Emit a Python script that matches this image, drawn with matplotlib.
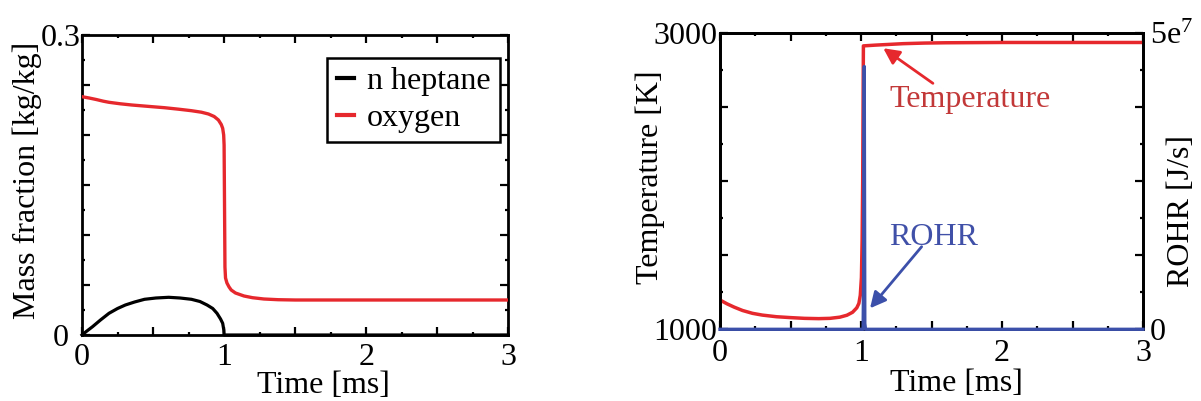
import numpy as np
import matplotlib
matplotlib.use("Agg")
import matplotlib.pyplot as plt
from matplotlib.ticker import MultipleLocator, FuncFormatter

plt.rcParams['font.family'] = ['Liberation Serif', 'DejaVu Serif']
plt.rcParams['mathtext.fontset'] = 'custom'
plt.rcParams['mathtext.rm'] = 'Liberation Serif'
plt.rcParams['mathtext.it'] = 'Liberation Serif:italic'
plt.rcParams['mathtext.bf'] = 'Liberation Serif:bold'

# ---------------- data ----------------
heptane_t = [0, 0.03, 0.074, 0.13, 0.19, 0.25, 0.305, 0.37, 0.44, 0.52, 0.61, 0.69,
             0.77, 0.83, 0.88, 0.92, 0.95, 0.975, 0.99, 0.998, 1.0, 3.0]
heptane_y = [0, 0.0035, 0.0083, 0.015, 0.0217, 0.0265, 0.030, 0.033, 0.0357, 0.037,
             0.0377, 0.037, 0.0357, 0.0335, 0.030, 0.0265, 0.0217, 0.016, 0.0117,
             0.005, 0, 0]

oxygen_t = [0, 0.05, 0.1, 0.15, 0.19, 0.27, 0.35, 0.46, 0.58, 0.68, 0.77, 0.84, 0.89,
            0.93, 0.96, 0.98, 0.99, 0.997, 1.0, 1.003, 1.006, 1.01, 1.02, 1.035, 1.05,
            1.08, 1.14, 1.2, 1.28, 1.38, 1.5, 3.0]
oxygen_y = [0.2383, 0.237, 0.2355, 0.2338, 0.2327, 0.2312, 0.230, 0.2287, 0.2273,
            0.2258, 0.2243, 0.2228, 0.221, 0.2185, 0.215, 0.2105, 0.2067, 0.200,
            0.190, 0.130, 0.068, 0.057, 0.052, 0.048, 0.045, 0.042, 0.039, 0.0373,
            0.036, 0.0353, 0.035, 0.035]

temp_t = [0, 0.05, 0.1, 0.16, 0.23, 0.3, 0.4, 0.5, 0.6, 0.7, 0.78, 0.85, 0.9, 0.94,
          0.97, 0.985, 0.995, 1.003, 1.008, 1.012, 1.017, 1.1, 1.2, 1.3, 1.45, 1.6,
          2.0, 3.0]
temp_y = [1198, 1172, 1150, 1127, 1108, 1096, 1085, 1079, 1074, 1072, 1074, 1082,
          1095, 1115, 1145, 1175, 1230, 1350, 1600, 2000, 2915, 2920, 2925, 2930,
          2934, 2936, 2938, 2938]

rohr_t = [0, 1.015, 1.019, 1.023, 1.027, 1.032, 3.0]
rohr_y = [0, 0, 1.0e7, 4.44e7, 1.0e6, 0, 0]

series_labels = ['n heptane', 'oxygen']
annot_labels = ['Temperature', 'ROHR']

# ---------------- style ----------------
RED = '#e6282d'
BLUE = '#3c50aa'
RED_TXT = '#c23838'
BLUE_TXT = '#4050a8'
FS = 23

fig = plt.figure(figsize=(12.01, 4.01), dpi=100)

def style_axes(ax, top=True, right=True):
    for s in ax.spines.values():
        s.set_linewidth(2.0)
    ax.tick_params(which='both', direction='in', top=top, right=right,
                   labelsize=FS, width=1.6)
    ax.tick_params(which='major', length=5.5)
    ax.tick_params(which='minor', length=2.5)

# ---------------- left chart ----------------
ax1 = fig.add_axes([82/1201, 1-335/401, 426.3/1201, 300/401])
ax1.plot(heptane_t, heptane_y, color='black', lw=2.3, label=series_labels[0], clip_on=False, zorder=3)
ax1.plot(oxygen_t, oxygen_y, color=RED, lw=2.4, label=series_labels[1], zorder=3)
ax1.set_xlim(0, 3)
ax1.set_ylim(0, 0.3)
style_axes(ax1)
ax1.xaxis.set_major_locator(MultipleLocator(0.5))
ax1.xaxis.set_minor_locator(MultipleLocator(0.25))
ax1.xaxis.set_major_formatter(FuncFormatter(lambda v, p: f"{v:g}" if abs(v - round(v)) < 1e-9 else ""))
ax1.yaxis.set_major_locator(MultipleLocator(0.05))
ax1.yaxis.set_minor_locator(MultipleLocator(0.025))
ax1.yaxis.set_major_formatter(FuncFormatter(lambda v, p: {0: "0", 6: "0.3"}.get(int(round(v / 0.05)), "")))
ax1.tick_params(axis='y', which='major', pad=15.5)
for lab in ax1.get_yticklabels():
    lab.set_horizontalalignment('center')
ax1.tick_params(axis='x', which='major', pad=6)
ax1.set_xlabel('Time [ms]', fontsize=FS)
ax1.xaxis.set_label_coords(0.566, -0.12)
ax1.set_ylabel('Mass fraction [kg/kg]', fontsize=FS)
ax1.yaxis.set_label_coords(-0.094, 0.514)
leg = ax1.legend(loc='upper right', bbox_to_anchor=(0.98, 0.925), borderaxespad=0,
                 fontsize=FS, frameon=True, fancybox=False, framealpha=1,
                 edgecolor='black', handlelength=0.55, handletextpad=0.38,
                 borderpad=0.3, labelspacing=0.22)
leg.get_frame().set_linewidth(1.8)
for h in leg.get_lines():
    h.set_linewidth(3)

# ---------------- right chart ----------------
ax2 = fig.add_axes([720/1201, 1-329.3/401, 423/1201, 296/401])
ax2.plot(temp_t, temp_y, color=RED, lw=2.5, zorder=3)
ax2.set_xlim(0, 3)
ax2.set_ylim(1000, 3000)
style_axes(ax2, right=False)
ax2.xaxis.set_major_locator(MultipleLocator(0.5))
ax2.xaxis.set_minor_locator(MultipleLocator(0.25))
ax2.xaxis.set_major_formatter(FuncFormatter(lambda v, p: f"{v:g}" if abs(v - round(v)) < 1e-9 else ""))
ax2.yaxis.set_major_locator(MultipleLocator(500))
ax2.yaxis.set_minor_locator(MultipleLocator(250))
ax2.yaxis.set_major_formatter(FuncFormatter(lambda v, p: f"{int(v)}" if v in (1000, 3000) else ""))
ax2.tick_params(axis='y', which='major', pad=2)
ax2.tick_params(axis='x', which='major', pad=7)
ax2.set_xlabel('Time [ms]', fontsize=FS)
ax2.xaxis.set_label_coords(0.56, -0.133)
ax2.set_ylabel('Temperature [K]', fontsize=FS)
ax2.yaxis.set_label_coords(-0.13, 0.513)

ax3 = ax2.twinx()
ax3.plot(rohr_t, rohr_y, color=BLUE, lw=2.4, clip_on=False, zorder=4)
ax3.set_ylim(0, 5e7)
for s in ax3.spines.values():
    s.set_linewidth(2.0)
ax3.tick_params(which='both', direction='in', labelsize=FS, width=1.6, left=False, right=True)
ax3.tick_params(which='major', length=5.5, pad=5)
ax3.tick_params(which='minor', length=2.5)
ax3.yaxis.set_major_locator(MultipleLocator(1.25e7))
ax3.yaxis.set_minor_locator(MultipleLocator(6.25e6))
ax3.yaxis.set_major_formatter(FuncFormatter(
    lambda v, p: "0" if abs(v) < 1 else (r"5e$^{\mathrm{7}}$" if abs(v - 5e7) < 1 else "")))
ax3.set_ylabel('ROHR [J/s]', fontsize=FS)
ax3.yaxis.set_label_coords(1.057, 0.40)

# annotations
ax2.text(1.2, 2502, annot_labels[0], color=RED_TXT, fontsize=FS, ha='left', va='baseline', zorder=5)
ax2.annotate('', xy=(1.158, 2899), xytext=(1.51, 2662),
             arrowprops=dict(arrowstyle='-|>', color=RED, lw=2.0, mutation_scale=24,
                             shrinkA=0, shrinkB=0), zorder=5)
ax2.text(1.2, 1570, annot_labels[1], color=BLUE_TXT, fontsize=FS, ha='left', va='baseline', zorder=5)
ax2.annotate('', xy=(1.064, 1142), xytext=(1.43, 1558),
             arrowprops=dict(arrowstyle='-|>', color=BLUE, lw=2.0, mutation_scale=24,
                             shrinkA=0, shrinkB=0), zorder=5)

fig.savefig('out.png', dpi=100)
